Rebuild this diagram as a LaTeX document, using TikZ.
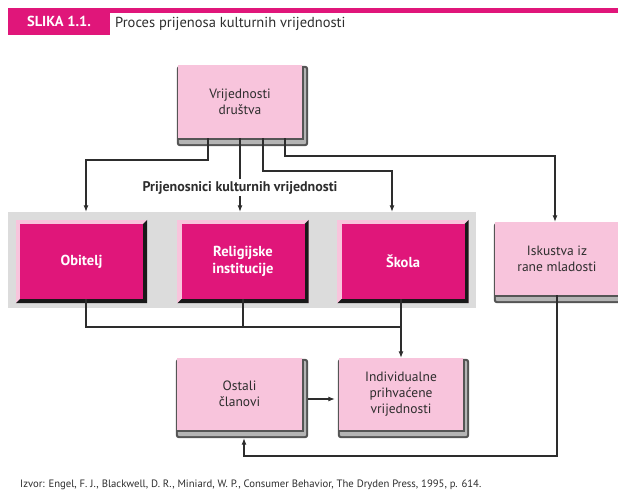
\documentclass[tikz,border=0pt]{standalone}
\usepackage{fontspec}
\setmainfont{PT Sans}
\usetikzlibrary{calc,arrows.meta}
\definecolor{mag}{RGB}{224,22,122}
\definecolor{lpink}{RGB}{248,196,220}
\definecolor{bandc}{RGB}{220,220,220}
\definecolor{dkg}{RGB}{85,85,85}
\definecolor{ltg}{RGB}{180,180,180}
\definecolor{txt}{RGB}{45,45,45}
\pgfdeclarelayer{back}
\pgfdeclarelayer{mid}
\pgfsetlayers{back,mid,main}
\newcommand\bevelbox[1]{%
  \begin{pgfonlayer}{mid}
  \fill[lpink] ($(#1.north west)+(-4,-4)$) rectangle ($(#1.south east)+(4,4)$);
  \fill[black!90] ($(#1.north east)+(4,-4)$) -- ($(#1.south east)+(4,4)$) -- ($(#1.south west)+(-4,4)$)
     -- (#1.south west) -- (#1.south east) -- (#1.north east) -- cycle;
  \end{pgfonlayer}}
\newcommand\shframe[1]{%
  \begin{pgfonlayer}{mid}
  \fill[dkg,rounded corners=3pt] ($(#1.north west)+(-1,1)$) rectangle ($(#1.south east)+(6,8)$);
  \fill[ltg,rounded corners=2pt] ($(#1.north west)+(1,3)$) rectangle ($(#1.south east)+(4,6)$);
  \fill[dkg] ($(#1.north west)+(0,1)$) rectangle ($(#1.south east)+(2,2)$);
  \end{pgfonlayer}}
\begin{document}
\begin{tikzpicture}[x=1pt,y=-1pt,
  lightbox/.style={fill=lpink, minimum width=124pt, minimum height=73pt, inner sep=0pt,
     align=center, text=txt, font=\fontsize{13.5}{16}\selectfont},
  magbox/.style={fill=mag, minimum width=123pt, minimum height=75pt, inner sep=0pt,
     align=center, text=white, font=\bfseries\fontsize{14.5}{17}\selectfont},
  conn/.style={draw=txt, line width=1.1pt},
  arr/.style={conn, -{Latex[length=6.5pt,width=5pt]}},
]
\useasboundingbox (0,0) rectangle (618,491);
% header
\fill[mag] (110,8) rectangle (618,13);
\node[fill=mag, minimum width=102pt, minimum height=27pt, inner sep=0pt, text=white,
      font=\bfseries\fontsize{14.5}{17}\selectfont] (hdr) at (59,21.5) {SLIKA 1.1.};
\node[anchor=west, text=txt, font=\fontsize{14.5}{17}\selectfont, inner sep=0pt] (title) at (115,23.5) {Proces prijenosa kulturnih vrijednosti};
% band
\begin{pgfonlayer}{back}
\node[fill=bandc, minimum width=468pt, minimum height=96pt, inner sep=0pt] (band) at (242,260) {};
\end{pgfonlayer}
% boxes
\node[lightbox] (top) at (240,101.5) {Vrijednosti\\društva};
\shframe{top}
\node[magbox] (obitelj) at (81.5,261.5) {Obitelj};
\bevelbox{obitelj}
\node[magbox] (relig) at (243,261.5) {Religijske\\institucije};
\bevelbox{relig}
\node[magbox] (skola) at (403,261.5) {Škola};
\bevelbox{skola}
\node[lightbox] (iskustva) at (557,258.5) {Iskustva iz\\rane mladosti};
\shframe{iskustva}
\node[lightbox, minimum width=125pt, minimum height=72pt] (ostali) at (239.5,394) {Ostali\\članovi};
\shframe{ostali}
\node[lightbox, minimum height=72pt] (individ) at (401,394) {Individualne\\prihvaćene\\vrijednosti};
\shframe{individ}
% label
\node[text=txt, font=\bfseries\fontsize{14}{16}\selectfont, inner sep=2pt] (lbl) at (240,187.5) {Prijenosnici kulturnih vrijednosti};
% connectors from top
\coordinate (a1) at (86,160);
\coordinate (a2) at (392,171);
\coordinate (a3) at (555,156);
\draw[arr] ([xshift=-32pt]top.south) |- (a1) -- (a1 |- band.north);
\draw[conn] (top.south) -- (lbl.north);
\draw[arr] (lbl.south) -- (lbl.south |- band.north);
\draw[arr] ([xshift=23pt]top.south) |- (a2) -- (a2 |- band.north);
\draw[arr] ([xshift=45pt]top.south) |- (a3) -- (a3 |- iskustva.north);
% lower connectors
\coordinate (hb) at (0,327);
\coordinate (lb) at (0,456);
\draw[conn] ([xshift=4.5pt]obitelj.south) |- (individ.north |- hb);
\draw[conn] (relig.south) -- (relig.south |- hb);
\draw[arr] (skola.south -| individ.north) -- (individ.north);
\draw[arr] (iskustva.south) |- ([xshift=4.5pt]ostali.south |- lb) -- ([xshift=4.5pt,yshift=-8pt]ostali.south);
\draw[arr] ([xshift=6pt,yshift=-5pt]ostali.east) -- ([xshift=-4pt,yshift=-5pt]individ.west);
% source
\node[anchor=base west, inner sep=0pt, text=txt, font=\fontsize{10.7}{12}\selectfont] (src) at (20,487) {Izvor: Engel, F. J., Blackwell, D. R., Miniard, W. P., Consumer Behavior, The Dryden Press, 1995, p. 614.};
\end{tikzpicture}
\end{document}
